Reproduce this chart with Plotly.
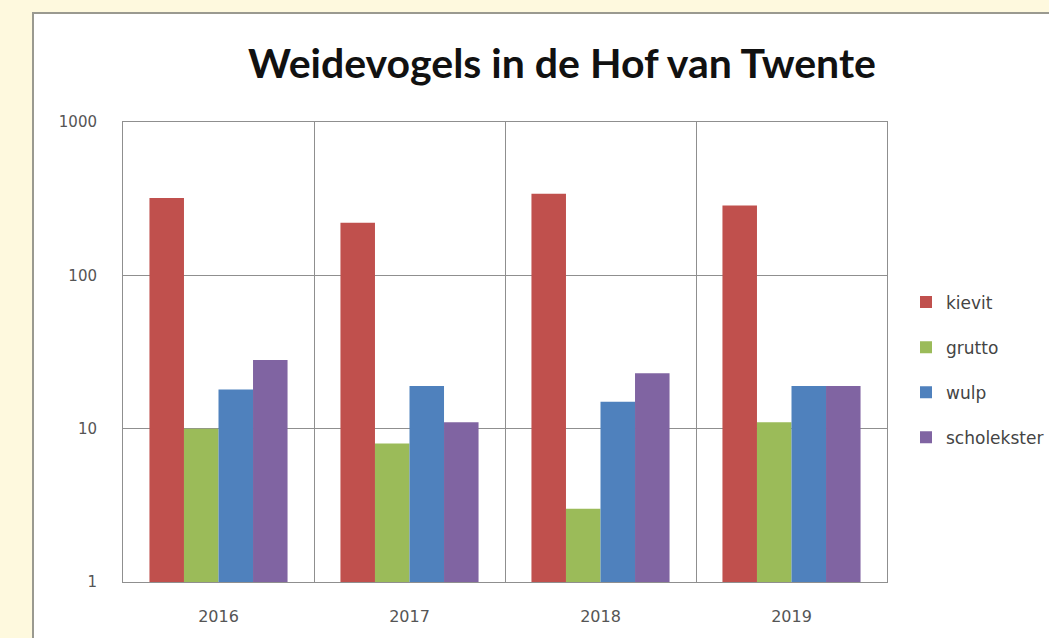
import plotly.graph_objects as go

years = ["2016", "2017", "2018", "2019"]
kievit = [320, 220, 340, 285]
grutto = [10, 8, 3, 11]
wulp = [18, 19, 15, 19]
scholekster = [28, 11, 23, 19]

series = [
    ("kievit", kievit, "#C0504D"),
    ("grutto", grutto, "#9BBB59"),
    ("wulp", wulp, "#4F81BD"),
    ("scholekster", scholekster, "#8064A2"),
]

W, H = 1049, 638
L, R, T, B = 123, 887, 122, 582
pw, ph = R - L, B - T

fig = go.Figure()
for i, (name, vals, col) in enumerate(series):
    fig.add_trace(go.Bar(x=years, y=vals, name=name, marker_color=col,
                         marker_line_width=0, legendgroup=f"g{i}"))

def px_x(v):
    return (v - L) / pw

def px_y(v):
    return (B - v) / ph

fig.add_shape(type="rect", xref="paper", yref="paper",
              x0=px_x(33), x1=px_x(1060), y0=px_y(650), y1=px_y(13),
              fillcolor="white", line=dict(color="#9a9a90", width=2), layer="below")

fig.update_layout(
    width=W, height=H,
    margin=dict(l=L, r=W - R, t=T, b=H - B, autoexpand=False),
    paper_bgcolor="#FEF9DE",
    plot_bgcolor="white",
    barmode="group", bargap=0.277, bargroupgap=0,
    title=dict(text="<b>Weidevogels in de Hof van Twente</b>",
               font=dict(family="Lato", size=41, color="#111"),
               x=562 / W, xanchor="center", y=1 - 64 / H, yanchor="middle",
               xref="container", yref="container"),
    legend=dict(x=px_x(906), y=px_y(370), xanchor="left", yanchor="middle",
                font=dict(family="DejaVu Sans", size=17, color="#444"),
                tracegroupgap=20, traceorder="grouped", bgcolor="rgba(0,0,0,0)"),
    xaxis=dict(type="category", tickson="boundaries", showgrid=True,
               gridcolor="#8f8f8f", gridwidth=1, showline=True, mirror=True,
               linecolor="#8f8f8f", linewidth=1, ticks="",
               tickfont=dict(family="DejaVu Sans", size=16, color="#555"),
               ticklabelstandoff=20),
    yaxis=dict(type="log", range=[0, 3], tickvals=[1, 10, 100, 1000],
               ticktext=["1", "10", "100", "1000"], showgrid=True,
               gridcolor="#8f8f8f", gridwidth=1, showline=True, mirror=True,
               linecolor="#8f8f8f", linewidth=1, ticks="", zeroline=False,
               tickfont=dict(family="DejaVu Sans", size=15, color="#555"),
               ticklabelstandoff=22),
)

fig.write_html("out.html",
               config={"displayModeBar": False},
               post_script="document.body.style.margin='0';"
                           "document.body.style.background='#FEF9DE';")
